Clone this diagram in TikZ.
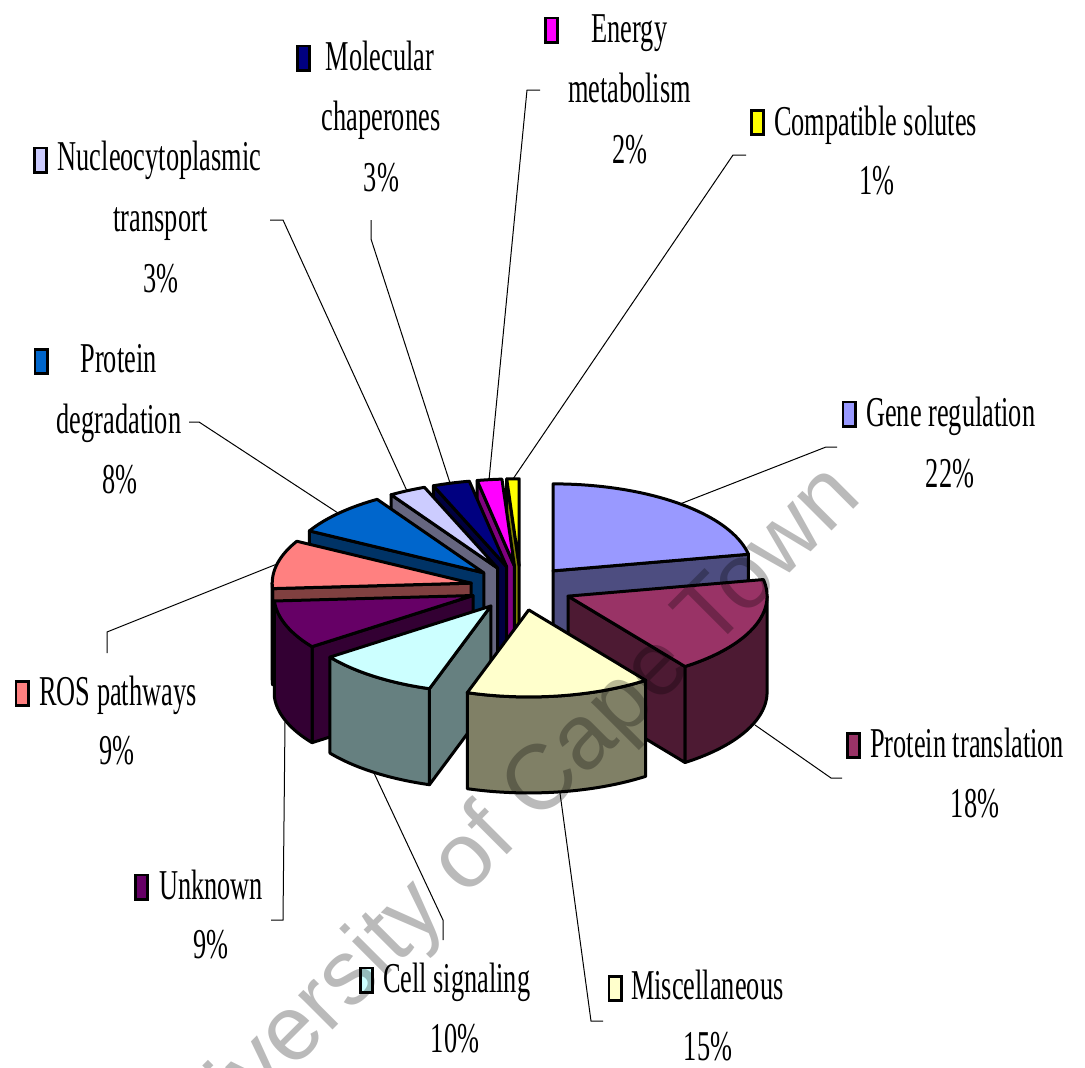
\documentclass[tikz,border=0pt]{standalone}
\usepackage{fontspec}
\setmainfont{Liberation Serif}
\newfontfamily\lblfont{Liberation Serif}[FakeStretch=0.62]
\newfontfamily\wmfont{Liberation Sans}

% slice colours (top / side)
\definecolor{cGene}{HTML}{9999FF}   \definecolor{sGene}{HTML}{4D4D80}
\definecolor{cPT}{HTML}{993366}     \definecolor{sPT}{HTML}{4D1A33}
\definecolor{cMisc}{HTML}{FFFFCC}   \definecolor{sMisc}{HTML}{808066}
\definecolor{cCell}{HTML}{CCFFFF}   \definecolor{sCell}{HTML}{668080}
\definecolor{cUnk}{HTML}{660066}    \definecolor{sUnk}{HTML}{330033}
\definecolor{cROS}{HTML}{FF8080}    \definecolor{sROS}{HTML}{804040}
\definecolor{cPD}{HTML}{0066CC}     \definecolor{sPD}{HTML}{003366}
\definecolor{cNuc}{HTML}{CCCCFF}    \definecolor{sNuc}{HTML}{666680}
\definecolor{cMC}{HTML}{000080}     \definecolor{sMC}{HTML}{000040}
\definecolor{cEn}{HTML}{FF00FF}     \definecolor{sEn}{HTML}{800080}
\definecolor{cCS}{HTML}{FFFF00}     \definecolor{sCS}{HTML}{808000}

% pie geometry: centre, explode distance, radii, thickness
\def\cx{520.8}\def\cy{588}\def\ex{50.8}\def\ra{199}\def\rb{87}\def\dep{96}

% apex of an exploded slice from its start and end angles
\newcommand\setapex[2]{%
  \pgfmathsetmacro\px{\cx+\ex*cos((#1+#2)/2)}%
  \pgfmathsetmacro\py{\cy-\ex*\rb/\ra*sin((#1+#2)/2)}}
% flat side face along the radius at angle #1
\newcommand\radialface[2]{%
  \path[face,fill=#2] (\px,\py) -- ({\px+\ra*cos(#1)},{\py-\rb*sin(#1)})
    -- ++(0,\dep) -- (\px,{\py+\dep}) -- cycle;}
% curved outer wall between angles #1 and #2
\newcommand\outerside[3]{%
  \path[face,fill=#3]
    plot[domain=#1:#2,samples=40,variable=\t] ({\px+\ra*cos(\t)},{\py-\rb*sin(\t)})
    -- plot[domain=#2:#1,samples=40,variable=\t] ({\px+\ra*cos(\t)},{\py-\rb*sin(\t)+\dep})
    -- cycle;}
% top face of a slice
\newcommand\topface[3]{%
  \path[face,fill=#3] (\px,\py)
    -- plot[domain=#1:#2,samples=40,variable=\t] ({\px+\ra*cos(\t)},{\py-\rb*sin(\t)})
    -- cycle;}

\begin{document}
\begin{tikzpicture}[x=1pt,y=-1pt,
  lbl/.style={font=\lblfont\fontsize{42.5}{60}\selectfont, inner sep=0pt},
  key/.style={draw=black, line width=2.6pt, minimum width=12.4pt,
              minimum height=24.4pt, inner sep=0pt},
  leader/.style={draw=black, line width=1pt},
  face/.style={draw=black, line width=3pt, line join=round}]

\fill[white] (0,0) rectangle (1085,1068);
\useasboundingbox (0,0) rectangle (1085,1068);

% ---------- leader lines ----------
\coordinate (mc-a) at (371,220);  \coordinate (mc-b) at (371,239);  \coordinate (mc-c) at (450,483);
\coordinate (nuc-a) at (270,220); \coordinate (nuc-b) at (283,220); \coordinate (nuc-c) at (407,491);
\coordinate (pd-a) at (189,422);  \coordinate (pd-b) at (199,422);  \coordinate (pd-c) at (338,513);
\coordinate (en-a) at (540,90);   \coordinate (en-b) at (527,90);   \coordinate (en-c) at (489,480);
\coordinate (cs-a) at (746,155);  \coordinate (cs-b) at (733,155);  \coordinate (cs-c) at (513,479);
\coordinate (gr-a) at (837,447);  \coordinate (gr-b) at (826,447);  \coordinate (gr-c) at (680,504);
\coordinate (pt-a) at (842,778);  \coordinate (pt-b) at (831,778);  \coordinate (pt-c) at (755,725);
\coordinate (mi-a) at (603,1021); \coordinate (mi-b) at (591,1021); \coordinate (mi-c) at (560,793);
\coordinate (ce-a) at (443,940);  \coordinate (ce-b) at (443,920);  \coordinate (ce-c) at (374,773);
\coordinate (un-a) at (271,920);  \coordinate (un-b) at (283,920);  \coordinate (un-c) at (285,722);
\coordinate (ro-a) at (107,653);  \coordinate (ro-b) at (107,632);  \coordinate (ro-c) at (277,564);
\foreach \n in {mc,nuc,pd,en,cs,gr,pt,mi,ce,un,ro}
  \draw[leader] (\n-a) -- (\n-b) -- (\n-c);

% ---------- pie slices, back to front ----------
% Compatible solutes
\setapex{90}{93.6}   \radialface{93.6}{sCS}  \topface{90}{93.6}{cCS}
% Energy metabolism
\setapex{93.6}{100.8} \radialface{100.8}{sEn} \topface{93.6}{100.8}{cEn}
% Molecular chaperones
\setapex{100.8}{111.6} \radialface{111.6}{sMC} \topface{100.8}{111.6}{cMC}
% Nucleocytoplasmic transport
\setapex{111.6}{122.4} \radialface{122.4}{sNuc} \topface{111.6}{122.4}{cNuc}
% Gene regulation
\setapex{11}{90} \radialface{11}{sGene} \topface{11}{90}{cGene}
% Protein degradation
\setapex{122.4}{151.2} \radialface{151.2}{sPD} \topface{122.4}{151.2}{cPD}
% ROS pathways
\setapex{151.2}{183.6} \radialface{183.6}{sROS} \outerside{180}{183.6}{sROS}
\topface{151.2}{183.6}{cROS}
% Unknown
\setapex{183.6}{216} \radialface{216}{sUnk} \outerside{183.6}{216}{sUnk}
\topface{183.6}{216}{cUnk}
% Protein translation
\setapex{306}{371} \radialface{306}{sPT} \outerside{306}{360}{sPT}
\topface{306}{371}{cPT}
% Cell signaling
\setapex{216}{252} \radialface{252}{sCell} \outerside{216}{252}{sCell}
\topface{216}{252}{cCell}
% Miscellaneous
\setapex{252}{306} \outerside{252}{306}{sMisc} \topface{252}{306}{cMisc}

% ---------- labels ----------
\node[key,fill=cMC] (mc-key) at (303.5,58) {};
\node[lbl,anchor=base] (mc-1) at (380,70) {Molecular};
\node[lbl,anchor=base] (mc-2) at (381,130) {chaperones};
\node[lbl,anchor=base] (mc-3) at (381.5,191) {3\%};

\node[key,fill=cNuc] (nuc-key) at (40.5,160) {};
\node[lbl,anchor=base] (nuc-1) at (159.5,170) {Nucleocytoplasmic};
\node[lbl,anchor=base] (nuc-2) at (160.5,231) {transport};
\node[lbl,anchor=base] (nuc-3) at (161,292) {3\%};

\node[key,fill=cPD] (pd-key) at (41,361.5) {};
\node[lbl,anchor=base] (pd-1) at (118.5,372) {Protein};
\node[lbl,anchor=base] (pd-2) at (119,433) {degradation};
\node[lbl,anchor=base] (pd-3) at (120,493) {8\%};

\node[key,fill=cEn] (en-key) at (551.5,30) {};
\node[lbl,anchor=base] (en-1) at (629.5,42) {Energy};
\node[lbl,anchor=base] (en-2) at (629.5,102) {metabolism};
\node[lbl,anchor=base] (en-3) at (630,163) {2\%};

\node[key,fill=cCS] (cs-key) at (757.5,122.5) {};
\node[lbl,anchor=base west] (cs-1) at (774,135) {Compatible solutes};
\node[lbl,anchor=base] (cs-2) at (877,194) {1\%};

\node[key,fill=cGene] (gr-key) at (849,414) {};
\node[lbl,anchor=base west] (gr-1) at (866,426) {Gene regulation};
\node[lbl,anchor=base] (gr-2) at (950,487) {22\%};

\node[key,fill=cPT] (pt-key) at (853.5,745.5) {};
\node[lbl,anchor=base west] (pt-1) at (870,757) {Protein translation};
\node[lbl,anchor=base] (pt-2) at (975,817) {18\%};

\node[key,fill=cMisc] (mi-key) at (615,988.5) {};
\node[lbl,anchor=base west] (mi-1) at (631,999) {Miscellaneous};
\node[lbl,anchor=base] (mi-2) at (708,1060) {15\%};

\node[key,fill=cCell] (ce-key) at (366.5,980) {};
\node[lbl,anchor=base west] (ce-1) at (383,992) {Cell signaling};
\node[lbl,anchor=base] (ce-2) at (455,1052) {10\%};

\node[key,fill=cUnk] (un-key) at (141.5,887) {};
\node[lbl,anchor=base west] (un-1) at (159,899) {Unknown};
\node[lbl,anchor=base] (un-2) at (211,958) {9\%};

\node[key,fill=cROS] (ro-key) at (22,693.5) {};
\node[lbl,anchor=base west] (ro-1) at (39,705) {ROS pathways};
\node[lbl,anchor=base] (ro-2) at (117,764) {9\%};

% ---------- watermark ----------
\node[font=\wmfont\fontsize{92}{92}\selectfont, text=black, text opacity=0.27,
      rotate=45, inner sep=0pt] (wm) at (496,833) {University of Cape Town};

\end{tikzpicture}
\end{document}
